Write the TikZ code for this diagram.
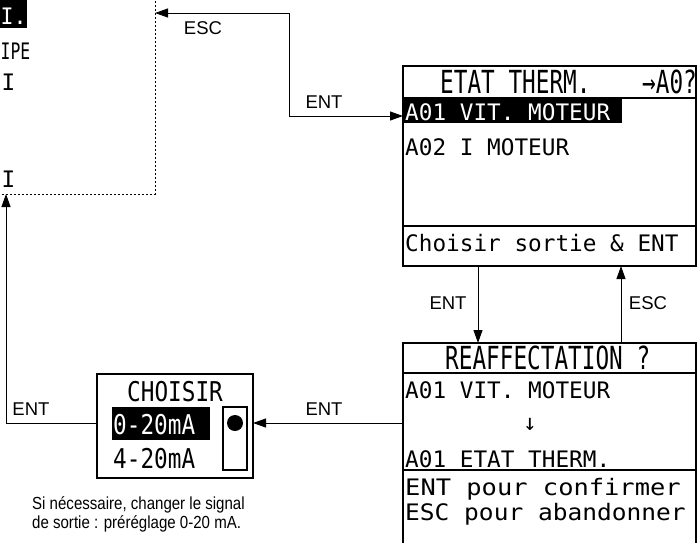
\documentclass[tikz,border=0pt]{standalone}
\usepackage{fontspec}
\setmainfont{Liberation Sans}
\newfontfamily\lcdfont{DejaVu Sans Mono}
\usetikzlibrary{arrows.meta}
\begin{document}
\begin{tikzpicture}[x=1pt,y=-1pt,
  conn/.style={line width=1pt,-{Triangle[length=13pt,width=9pt]}},
  lbl/.style={font=\fontsize{18.5}{20}\selectfont, inner sep=0},
  capt/.style={font=\fontsize{17.5}{19}\selectfont, inner sep=0, anchor=base west},
  lcd/.style={font=\lcdfont\fontsize{22.7}{24}\selectfont, inner sep=0, anchor=base west},
  screen/.style={draw, line width=1.1pt, inner sep=0, outer sep=0},
  titlebar/.style={draw, line width=1.8pt},
  sepline/.style={line width=1.8pt}
]
\useasboundingbox (0,0) rectangle (699,542);
\begin{scope}
\clip (0,0) rectangle (699,542);
% previous screen (cut off)
\node[draw, dash pattern=on 2pt off 2pt, line width=0.8pt, inner sep=0, outer sep=0,
      minimum width=185pt, minimum height=224pt] (prev) at (62.5,82) {};
\fill (-5,-5) rectangle (27,28);
\node[lcd, text=white] (f1) at (0.5,24) {\scalebox{0.95}[1]{I.}};
\node[lcd] (f2) at (0.5,59) {\scalebox{0.72}[1]{IPE}};
\node[lcd, anchor=base] (f3) at (8.5,90) {I};
\node[lcd, anchor=base] (f4) at (8.5,187) {I};

% ETAT THERM screen
\node[screen, minimum width=293pt, minimum height=200pt] (etat) at (549.5,166) {};
\draw[titlebar] (403,66) rectangle (696,98);
\draw[sepline] (403,226) -- (696,226);
\fill (403,98) rectangle (622,123);
\node[lcd] (t1) at (440,93) {\scalebox{1}[1.4]{ETAT THERM.}};
\node[lcd] (t2) at (642,93) {\scalebox{1}[1.4]{→A0?}};
\node[lcd, text=white] (e1) at (405,120) {A01 VIT. MOTEUR};
\node[lcd] (e2) at (405,155) {A02 I MOTEUR};
\node[lcd] (e3) at (405,251) {Choisir sortie \& ENT};

% REAFFECTATION screen
\node[screen, minimum width=293pt, minimum height=217pt] (reaf) at (549.5,451.5) {};
\draw[titlebar] (403,343) rectangle (696,373);
\draw[sepline] (403,470) -- (696,470);
\node[lcd] (r0) at (445,369) {\scalebox{1}[1.4]{REAFFECTATION ?}};
\node[lcd] (r1) at (405,398) {A01 VIT. MOTEUR};
\node[lcd, anchor=center] (r2) at (530,424) {↓};
\node[lcd] (r3) at (405,467) {A01 ETAT THERM.};
\node[lcd] (r4) at (405,495) {\scalebox{1.12}[1]{ENT pour confirmer}};
\node[lcd] (r5) at (405,520) {\scalebox{1.08}[1]{ESC pour abandonner}};

% CHOISIR screen
\node[screen, line width=1.3pt, minimum width=156pt, minimum height=104pt] (choix) at (175,426) {};
\node[lcd] (c0) at (127,401) {\scalebox{1}[1.2]{CHOISIR}};
\fill (112,407) rectangle (210,440);
\node[lcd, text=white] (c1) at (113,434) {\scalebox{1}[1.2]{0-20mA}};
\node[lcd] (c2) at (113,468) {\scalebox{1}[1.2]{4-20mA}};
\draw[line width=2.2pt] (223,407) rectangle (247,470);
\fill (235,423) circle (8);

% connectors
\coordinate (jt) at (289,13);
\coordinate (jb) at (289,116);
\draw[conn] (jb) -- (jt) -- (jt -| prev.east);
\draw[conn] (jb) -- (jb -| etat.west);
\coordinate (xd) at (478,0);
\coordinate (xu) at (621,0);
\draw[conn] (xd |- etat.south) -- (xd |- reaf.north);
\draw[conn] (xu |- reaf.north) -- (xu |- etat.south);
\coordinate (ya) at (0,423);
\coordinate (xl) at (6,0);
\draw[conn] (reaf.west |- ya) -- (choix.east |- ya);
\draw[conn] (choix.west |- ya) -- (xl |- ya) -- (xl |- prev.south);

% labels
\node[lbl] (l1) at (203,28) {ESC};
\node[lbl] (l2) at (324,102) {ENT};
\node[lbl] (l3) at (448,303) {ENT};
\node[lbl] (l4) at (648,303) {ESC};
\node[lbl] (l5) at (324,409) {ENT};
\node[lbl] (l6) at (31,409) {ENT};

% caption
\node[capt] (cap1) at (32,509) {\scalebox{0.86}[1]{Si nécessaire, changer le signal}};
\node[capt] (cap2) at (32,528) {\scalebox{0.86}[1]{de sortie : préréglage 0-20 mA.}};
\end{scope}
\end{tikzpicture}
\end{document}
